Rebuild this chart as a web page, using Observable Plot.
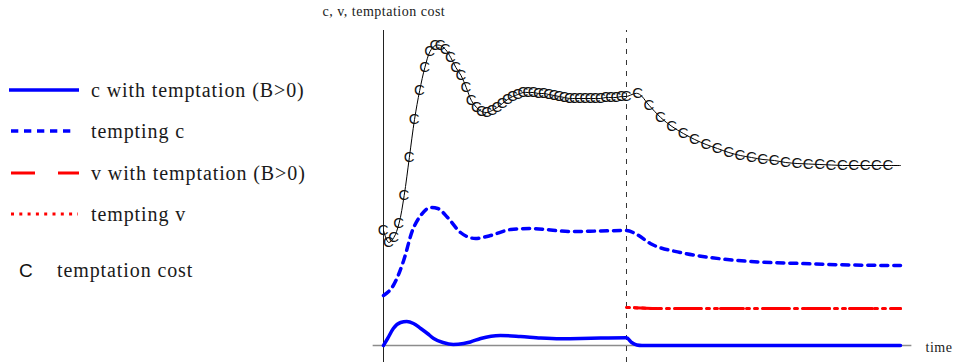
<!DOCTYPE html>
<html><head><meta charset="utf-8">
<script src="https://cdn.jsdelivr.net/npm/d3@7"></script>
<script src="https://cdn.jsdelivr.net/npm/@observablehq/plot@0.6"></script>
<style>
body{margin:0;background:#fff;}
#wrap{position:relative;width:954px;height:362px;overflow:hidden;}
#chart{position:absolute;left:0;top:0;}
#legend{position:absolute;left:0;top:0;}
#chart svg{letter-spacing:0.5px;}
</style></head><body>
<div id="wrap"><div id="chart"></div><svg id="legend" width="340" height="362"></svg></div>
<script>
// ---- data (time in arbitrary units 0..100, regime switch at t = 47) ----
const switchTime = 47;

const cWithT = [0, 0.8, 1.9, 3.3, 4.5, 5.8, 7.2, 8.5, 9.7, 11.5, 13.5, 15.5, 16.8, 18.8, 22.6, 26.5, 30.4, 34.2, 38.1, 42, 47, 48, 49, 50, 100];
const cWith  = [0, 7, 17, 23, 24, 22, 17, 12, 7, 3, 1, 2, 3.5, 7, 10, 9, 7.5, 6.8, 7, 7.5, 7.8, 3, 0.5, 0, 0];

const temptingCT = [0, 1.9, 3.9, 5.6, 7.2, 9.1, 10.5, 12.4, 14.9, 17.8, 20.7, 24.6, 28.4, 36.2, 42, 47, 49, 51.6, 57.4, 63.2, 71, 80.7, 90.3, 100];
const temptingC  = [50, 60, 85, 115, 130, 138, 137, 128, 113, 107, 110, 116, 117, 114, 114.5, 115, 111, 102, 93, 88, 84, 82, 80.5, 80];

const vWithT = [47, 52, 100];
const vWith  = [38, 37, 37];
const temptingVT = [47, 52, 100];
const temptingV  = [38, 37, 37];

const costT = [0,1,2,3,4,5,6,7,8,9,10,11,12,13,14,15,16,17,18,19,20,21,22,23,24,25,26,27,28,29,30,31,32,33,34,35,36,37,38,39,40,41,42,43,44,45,46,47,
  49.2,51.4,53.6,55.8,58,60.2,62.4,64.6,66.8,69,71.2,73.4,75.6,77.8,80,82.2,84.4,86.6,88.8,91,93.2,95.4,97.6,100];
const cost = [115,103,108,122,150,188,226,255,278,294,300,300,296,288,278,270,258,245,238,234,233,235,238,242,246,249,251,253,253,253,252,252,251,250,249,248,247,247,247,247,247,247,247,248,248,248,249,249,
  252,240,228,219,212,206,201,197,193,190,188,186,185,183,182,181.5,181,180.5,180,180,180,180,180,180];

const legendLabels = ["c with temptation (B>0)", "tempting c", "v with temptation (B>0)", "tempting v", "temptation cost"];
const axisLabelY = "c, v, temptation cost";
const axisLabelX = "time";
const markerGlyph = "C";

// ---- build tables ----
const toRows = (T, V) => T.map((t, i) => ({t, v: V[i]}));
const cWithData = toRows(cWithT, cWith);
const temptingCData = toRows(temptingCT, temptingC);
const vWithData = toRows(vWithT, vWith);
const temptingVData = toRows(temptingVT, temptingV);
const costData = toRows(costT, cost);

const BLUE = "#0000ff", RED = "#ff0000";

const chart = Plot.plot({
  width: 954, height: 362,
  marginLeft: 383, marginRight: 54, marginTop: 30, marginBottom: 17,
  x: {domain: [0, 100], axis: null},
  y: {domain: [0, 315], axis: null},
  style: {background: "transparent", fontFamily: "'Liberation Serif', serif", color: "#1a1a1a"},
  marks: [
    Plot.ruleY([0], {x1: -2, x2: 102.2, stroke: "#8c8c8c", strokeWidth: 1.5}),
    Plot.ruleX([0], {y1: -17, y2: 315, stroke: "#222", strokeWidth: 1}),
    Plot.ruleX([switchTime], {y1: -17, y2: 315, stroke: "#333", strokeWidth: 1, strokeDasharray: "5,6"}),
    Plot.line(temptingVData, {x: "t", y: "v", stroke: RED, strokeWidth: 3, strokeDasharray: "3,5"}),
    Plot.line(vWithData, {x: "t", y: "v", stroke: RED, strokeWidth: 3, strokeDasharray: "23,20", strokeDashoffset: 35}),
    Plot.line(temptingCData, {x: "t", y: "v", stroke: BLUE, strokeWidth: 3.5, strokeDasharray: "7,6", curve: "monotone-x"}),
    Plot.line(cWithData, {x: "t", y: "v", stroke: BLUE, strokeWidth: 3.5, curve: "monotone-x"}),
    Plot.line(costData, {x: "t", y: "v", stroke: "#000", strokeWidth: 1, curve: "catmull-rom"}),
    Plot.text(costData.filter(d => d.t < 99), {x: "t", y: "v", text: () => markerGlyph, fontSize: 15, fontFamily: "'Liberation Sans', sans-serif", fill: "#111"}),
    Plot.text([axisLabelY], {frameAnchor: "top-left", dx: -61, dy: -15, textAnchor: "start", lineAnchor: "bottom", fontSize: 14}),
    Plot.text([axisLabelX], {frameAnchor: "bottom-right", dx: 25, dy: 2, textAnchor: "start", lineAnchor: "middle", fontSize: 14})
  ]
});
document.getElementById("chart").appendChild(chart);

// ---- legend ----
const lg = d3.select("#legend");
const rows = [
  {y: 90, x1: 9, x2: 79, stroke: BLUE, w: 3.5, dash: null},
  {y: 131, x1: 11, x2: 74, stroke: BLUE, w: 3.5, dash: "7.3,5.7"},
  {y: 173, x1: 11, x2: 79, stroke: RED, w: 3, dash: "24,23"},
  {y: 214, x1: 11, x2: 78, stroke: RED, w: 3, dash: "3,5.3"}
];
rows.forEach((r, i) => {
  const ln = lg.append("line").attr("x1", r.x1).attr("x2", r.x2).attr("y1", r.y).attr("y2", r.y)
    .attr("stroke", r.stroke).attr("stroke-width", r.w);
  if (r.dash) ln.attr("stroke-dasharray", r.dash);
  lg.append("text").attr("x", 91).attr("y", r.y + 6.5)
    .attr("font-family", "'Liberation Serif', serif").attr("font-size", 20)
    .attr("letter-spacing", 0.9).attr("fill", "#1a1a1a").text(legendLabels[i]);
});
lg.append("text").attr("x", 19).attr("y", 277)
  .attr("font-family", "'Liberation Sans', sans-serif").attr("font-size", 19).attr("fill", "#111").text(markerGlyph);
lg.append("text").attr("x", 57).attr("y", 277)
  .attr("font-family", "'Liberation Serif', serif").attr("font-size", 20)
  .attr("letter-spacing", 0.9).attr("fill", "#1a1a1a").text(legendLabels[4]);
</script>
</body></html>
